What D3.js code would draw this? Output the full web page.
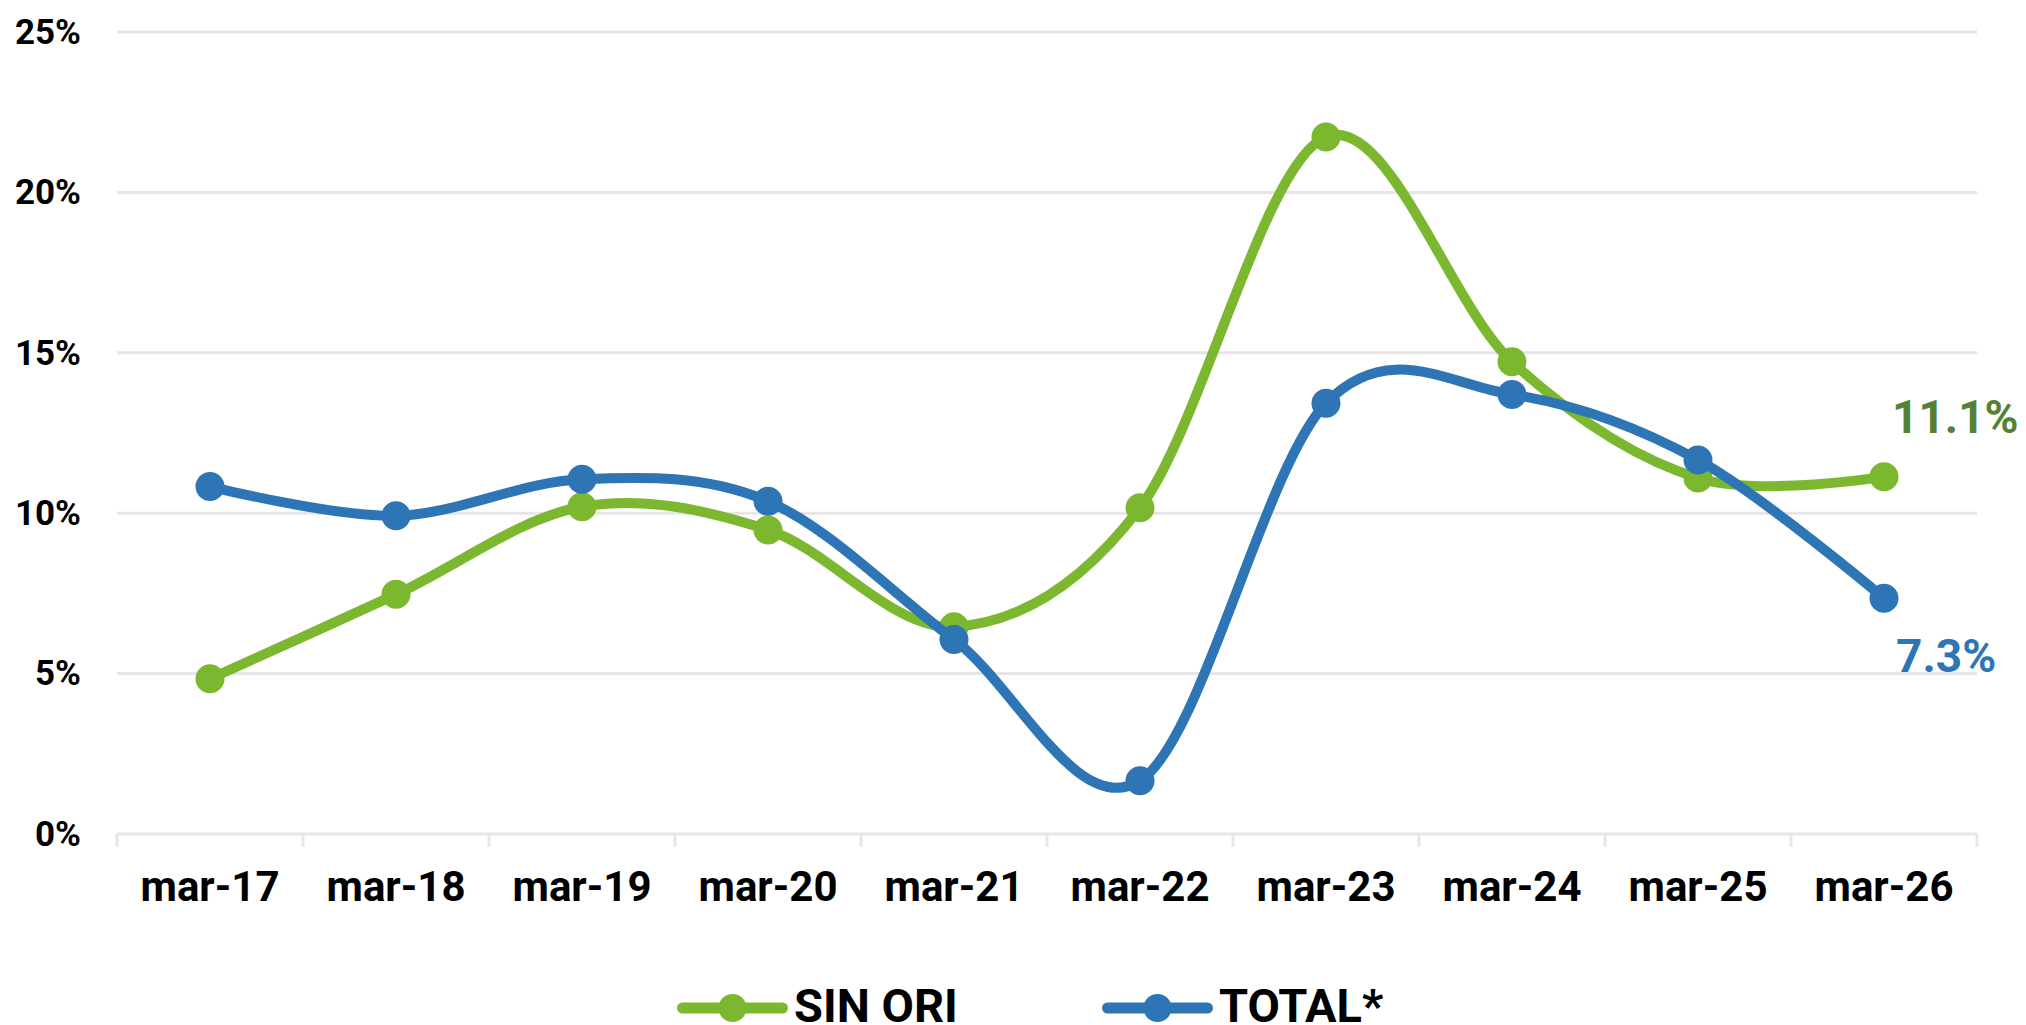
<!DOCTYPE html>
<html>
<head>
<meta charset="utf-8">
<script src="https://cdn.jsdelivr.net/npm/d3@7"></script>
<style>
  body { margin: 0; background: #fff; }
  svg { display: block; font-family: Roboto, "Noto Sans", sans-serif; font-weight: bold; }
</style>
</head>
<body>
<div class="graph"></div>
<script>
'use strict'

// data
const categories = ['mar-17', 'mar-18', 'mar-19', 'mar-20', 'mar-21', 'mar-22', 'mar-23', 'mar-24', 'mar-25', 'mar-26']
const sinOri = [4.84, 7.47, 10.2, 9.48, 6.46, 10.17, 21.73, 14.72, 11.1, 11.14]
const total = [10.83, 9.92, 11.06, 10.37, 6.06, 1.66, 13.43, 13.7, 11.66, 7.35]
const yTicks = [0, 5, 10, 15, 20, 25]
const seriesNames = ['SIN ORI', 'TOTAL*']
const endLabels = ['11.1%', '7.3%']

const colors = ['#7cb82f', '#2e75b6']
const labelColors = ['#548235', '#2e75b6']

;(function (d3) {
  const W = 2026, H = 1025
  const margin = { top: 32, right: 49, bottom: 191, left: 117 }
  const width = W - margin.left - margin.right
  const height = H - margin.top - margin.bottom

  const svg = d3.select('.graph').append('svg')
    .attr('width', W)
    .attr('height', H)

  const g = svg.append('g')
    .attr('transform', `translate(${margin.left},${margin.top})`)

  const xScale = d3.scaleBand().domain(categories).range([0, width])
  const yScale = d3.scaleLinear().domain([0, 25]).range([height, 0])

  // gridlines
  g.append('g')
    .selectAll('line')
    .data(yTicks.filter(d => d > 0))
    .join('line')
    .attr('x1', 0)
    .attr('x2', width)
    .attr('y1', d => yScale(d))
    .attr('y2', d => yScale(d))
    .attr('stroke', '#e6e6e6')
    .attr('stroke-width', 3)

  // y axis labels
  const yAxis = g.append('g')
    .call(d3.axisLeft(yScale).tickValues(yTicks).tickFormat(d => d + '%').tickSize(0).tickPadding(36))
  yAxis.select('.domain').remove()
  yAxis.selectAll('text')
    .style('font-size', '35px')
    .style('font-family', 'Roboto')
    .style('font-weight', 'bold')
    .attr('fill', '#000')

  // x axis with ticks at band boundaries
  const xAxis = g.append('g')
    .attr('transform', `translate(0,${height})`)
  xAxis.append('line')
    .attr('x1', 0).attr('x2', width)
    .attr('stroke', '#e6e6e6').attr('stroke-width', 3)
  xAxis.selectAll('line.tk')
    .data(d3.range(categories.length + 1))
    .join('line')
    .attr('class', 'tk')
    .attr('x1', i => i * xScale.step())
    .attr('x2', i => i * xScale.step())
    .attr('y1', 0)
    .attr('y2', 13)
    .attr('stroke', '#e6e6e6').attr('stroke-width', 3)
  xAxis.selectAll('text')
    .data(categories)
    .join('text')
    .attr('x', d => xScale(d) + xScale.bandwidth() / 2)
    .attr('y', 67)
    .attr('text-anchor', 'middle')
    .style('font-size', '42px')
    .attr('fill', '#000')
    .text(d => d)

  const cx = i => xScale(categories[i]) + xScale.bandwidth() / 2
  const line = d3.line()
    .x((d, i) => cx(i))
    .y(d => yScale(d))
    .curve(d3.curveCardinal.tension(0))

  const series = [sinOri, total]
  series.forEach((values, s) => {
    g.append('path')
      .datum(values)
      .attr('d', line)
      .attr('fill', 'none')
      .attr('stroke', colors[s])
      .attr('stroke-width', 10)
      .attr('stroke-linecap', 'round')

    g.append('g')
      .selectAll('circle')
      .data(values)
      .join('circle')
      .attr('cx', (d, i) => cx(i))
      .attr('cy', d => yScale(d))
      .attr('r', 14.5)
      .attr('fill', colors[s])
  })

  // end labels
  const last = categories.length - 1
  g.append('text')
    .attr('x', cx(last) + 8)
    .attr('y', yScale(sinOri[last]) - 44)
    .style('font-size', '46px')
    .attr('fill', labelColors[0])
    .text(endLabels[0])
  g.append('text')
    .attr('x', cx(last) + 12)
    .attr('y', yScale(total[last]) + 74)
    .style('font-size', '46px')
    .attr('fill', labelColors[1])
    .text(endLabels[1])

  // legend
  const legendX = [677, 1102]
  seriesNames.forEach((name, s) => {
    const lg = svg.append('g')
      .attr('transform', `translate(${legendX[s]},1008)`)
    lg.append('line')
      .attr('x1', 5.5).attr('x2', 105.5)
      .attr('stroke', colors[s])
      .attr('stroke-width', 11)
      .attr('stroke-linecap', 'round')
    lg.append('circle')
      .attr('cx', 55.5).attr('r', 14)
      .attr('fill', colors[s])
    lg.append('text')
      .attr('x', 117)
      .attr('y', 14)
      .style('font-size', '47px')
      .attr('fill', '#000')
      .text(name)
  })
})(d3)
</script>
</body>
</html>
